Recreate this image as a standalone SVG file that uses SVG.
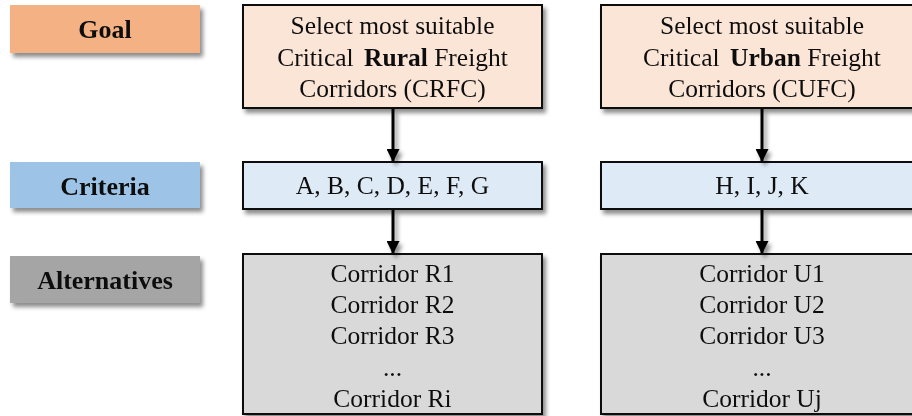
<svg xmlns="http://www.w3.org/2000/svg" width="912" height="416" viewBox="0 0 912 416">
<defs>
<filter id="sh" x="-10%" y="-10%" width="130%" height="140%">
<feDropShadow dx="3" dy="4" stdDeviation="2" flood-color="#000" flood-opacity="0.45"/>
</filter>
<marker id="ah" markerWidth="13" markerHeight="13" refX="12" refY="6.5" orient="auto" markerUnits="userSpaceOnUse" viewBox="0 0 13 13">
<path d="M0,0 L13,6.5 L0,13 Z" fill="#000"/>
</marker>
<style>
text{font-family:"Liberation Serif","Times New Roman",serif;font-size:25.5px;fill:#111;text-anchor:middle}
.lbl{font-weight:bold}
.hd{font-size:26px}
.box{stroke:#111;stroke-width:2}
.goal{fill:#FBE5D6}
.crit{fill:#DEEBF7}
.alt{fill:#D9D9D9}
.con{stroke:#000;stroke-width:3;fill:none}
</style>
</defs>
<g id="label-goal" filter="url(#sh)">
<rect x="10" y="5" width="190" height="48" fill="#F4B183"/>
<text class="lbl hd" x="105" y="38">Goal</text>
</g>
<g id="label-criteria" filter="url(#sh)">
<rect x="10" y="162" width="190" height="46" fill="#9DC3E6"/>
<text class="lbl hd" x="105" y="195">Criteria</text>
</g>
<g id="label-alternatives" filter="url(#sh)">
<rect x="10" y="256" width="190" height="47" fill="#A5A5A5"/>
<text class="lbl hd" x="105" y="289">Alternatives</text>
</g>
<g id="goal-rural" filter="url(#sh)">
<rect class="box goal" x="243" y="5" width="299" height="103"/>
<text x="392.5" y="34">Select most suitable</text>
<text x="392.5" y="66">Critical <tspan class="lbl" dx="4">Rural</tspan> Freight</text>
<text x="392.5" y="97">Corridors (CRFC)</text>
</g>
<g id="goal-urban" filter="url(#sh)">
<rect class="box goal" x="601" y="5" width="322" height="103"/>
<text x="762" y="34">Select most suitable</text>
<text x="762" y="66">Critical <tspan class="lbl" dx="4">Urban</tspan> Freight</text>
<text x="762" y="97">Corridors (CUFC)</text>
</g>
<g id="criteria-rural" filter="url(#sh)">
<rect class="box crit" x="243" y="162" width="299" height="47"/>
<text x="392.5" y="194">A, B, C, D, E, F, G</text>
</g>
<g id="criteria-urban" filter="url(#sh)">
<rect class="box crit" x="601" y="162" width="322" height="47"/>
<text x="762" y="194">H, I, J, K</text>
</g>
<g id="alternatives-rural" filter="url(#sh)">
<rect class="box alt" x="243" y="254" width="299" height="160"/>
<text x="392.5" y="282">Corridor R1</text>
<text x="392.5" y="313">Corridor R2</text>
<text x="392.5" y="344">Corridor R3</text>
<text x="392.5" y="376">...</text>
<text x="392.5" y="407">Corridor Ri</text>
</g>
<g id="alternatives-urban" filter="url(#sh)">
<rect class="box alt" x="601" y="254" width="322" height="160"/>
<text x="762" y="282">Corridor U1</text>
<text x="762" y="313">Corridor U2</text>
<text x="762" y="344">Corridor U3</text>
<text x="762" y="376">...</text>
<text x="762" y="407">Corridor Uj</text>
</g>
<g id="connectors" filter="url(#sh)">
<path class="con" d="M393,109 V161" marker-end="url(#ah)"/>
<path class="con" d="M762,109 V161" marker-end="url(#ah)"/>
<path class="con" d="M393,210 V253" marker-end="url(#ah)"/>
<path class="con" d="M762,210 V253" marker-end="url(#ah)"/>
</g>
</svg>
